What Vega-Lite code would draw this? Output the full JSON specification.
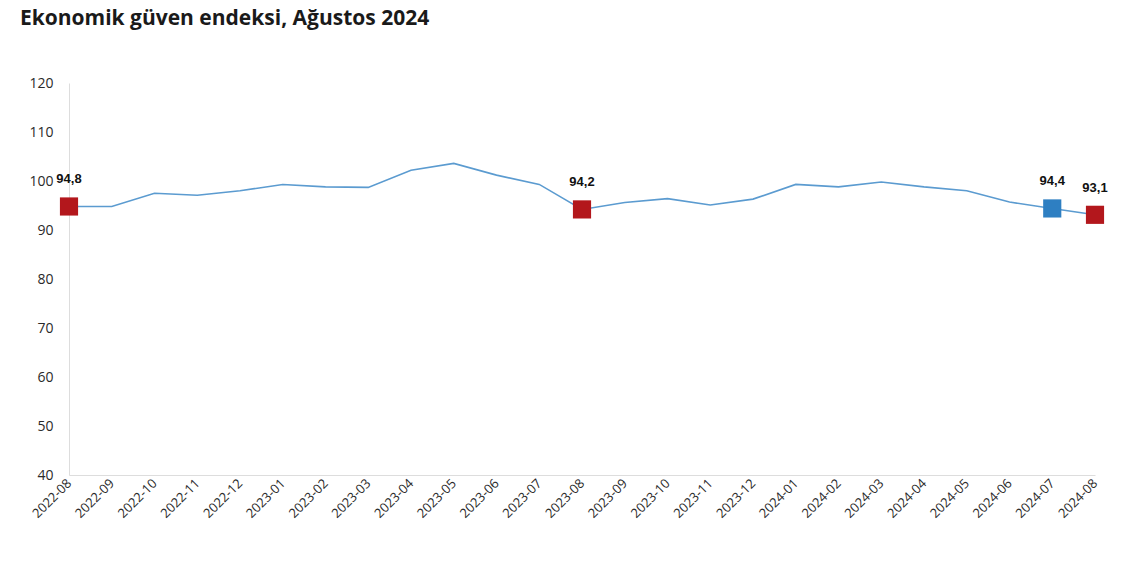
{
  "$schema": "https://vega.github.io/schema/vega-lite/v6.json",
  "autosize": {"type": "none"},
  "width": 1026,
  "height": 392,
  "padding": {"left": 69, "top": 83, "right": 45, "bottom": 95},
  "background": "white",
  "title": {
    "text": "Ekonomik güven endeksi, Ağustos 2024",
    "anchor": "start",
    "frame": "group",
    "dx": -49,
    "offset": 47,
    "font": "Open Sans",
    "fontSize": 21,
    "fontWeight": "bold",
    "color": "#1a1a1a"
  },
  "config": {
    "view": {"stroke": null},
    "locale": {"number": {"decimal": ",", "thousands": ".", "grouping": [3], "currency": ["", " TL"]}}
  },
  "data": {
    "values": [
      {"ay": "2022-08", "endeks": 94.8, "vurgu": "kırmızı"},
      {"ay": "2022-09", "endeks": 94.8, "vurgu": null},
      {"ay": "2022-10", "endeks": 97.5, "vurgu": null},
      {"ay": "2022-11", "endeks": 97.1, "vurgu": null},
      {"ay": "2022-12", "endeks": 98.0, "vurgu": null},
      {"ay": "2023-01", "endeks": 99.3, "vurgu": null},
      {"ay": "2023-02", "endeks": 98.8, "vurgu": null},
      {"ay": "2023-03", "endeks": 98.7, "vurgu": null},
      {"ay": "2023-04", "endeks": 102.2, "vurgu": null},
      {"ay": "2023-05", "endeks": 103.6, "vurgu": null},
      {"ay": "2023-06", "endeks": 101.2, "vurgu": null},
      {"ay": "2023-07", "endeks": 99.3, "vurgu": null},
      {"ay": "2023-08", "endeks": 94.2, "vurgu": "kırmızı"},
      {"ay": "2023-09", "endeks": 95.6, "vurgu": null},
      {"ay": "2023-10", "endeks": 96.4, "vurgu": null},
      {"ay": "2023-11", "endeks": 95.1, "vurgu": null},
      {"ay": "2023-12", "endeks": 96.3, "vurgu": null},
      {"ay": "2024-01", "endeks": 99.3, "vurgu": null},
      {"ay": "2024-02", "endeks": 98.8, "vurgu": null},
      {"ay": "2024-03", "endeks": 99.8, "vurgu": null},
      {"ay": "2024-04", "endeks": 98.8, "vurgu": null},
      {"ay": "2024-05", "endeks": 98.0, "vurgu": null},
      {"ay": "2024-06", "endeks": 95.7, "vurgu": null},
      {"ay": "2024-07", "endeks": 94.4, "vurgu": "mavi"},
      {"ay": "2024-08", "endeks": 93.1, "vurgu": "kırmızı"}
    ]
  },
  "encoding": {
    "x": {
      "field": "ay",
      "type": "ordinal",
      "scale": {"type": "point", "padding": 0},
      "axis": {
        "title": null,
        "labelAngle": -45,
        "labelAlign": "right",
        "labelBaseline": "middle",
        "labelFont": "Open Sans",
        "labelFontSize": 13,
        "labelColor": "#2a2a2a",
        "labelPadding": 6,
        "ticks": false,
        "domainColor": "#dddddd",
        "grid": false
      }
    },
    "y": {
      "field": "endeks",
      "type": "quantitative",
      "scale": {"domain": [40, 120], "nice": false, "zero": false},
      "axis": {
        "title": null,
        "values": [40, 50, 60, 70, 80, 90, 100, 110, 120],
        "labelFont": "Open Sans",
        "labelFontSize": 14,
        "labelColor": "#2a2a2a",
        "labelPadding": 16,
        "ticks": false,
        "domainColor": "#dddddd",
        "grid": false,
        "format": "d"
      }
    }
  },
  "layer": [
    {
      "mark": {"type": "line", "color": "#5b9bd0", "strokeWidth": 1.6}
    },
    {
      "transform": [{"filter": "datum.vurgu != null"}],
      "mark": {"type": "square", "size": 330, "opacity": 1, "filled": true},
      "encoding": {
        "color": {
          "field": "vurgu",
          "type": "nominal",
          "scale": {"domain": ["kırmızı", "mavi"], "range": ["#b3171c", "#2e7fc2"]},
          "legend": null
        }
      }
    },
    {
      "transform": [{"filter": "datum.vurgu != null"}],
      "mark": {"type": "text", "dy": -27, "font": "Liberation Sans", "fontSize": 13, "fontWeight": "bold", "color": "#111111"},
      "encoding": {
        "text": {"field": "endeks", "type": "quantitative", "format": ".1f"}
      }
    }
  ]
}
